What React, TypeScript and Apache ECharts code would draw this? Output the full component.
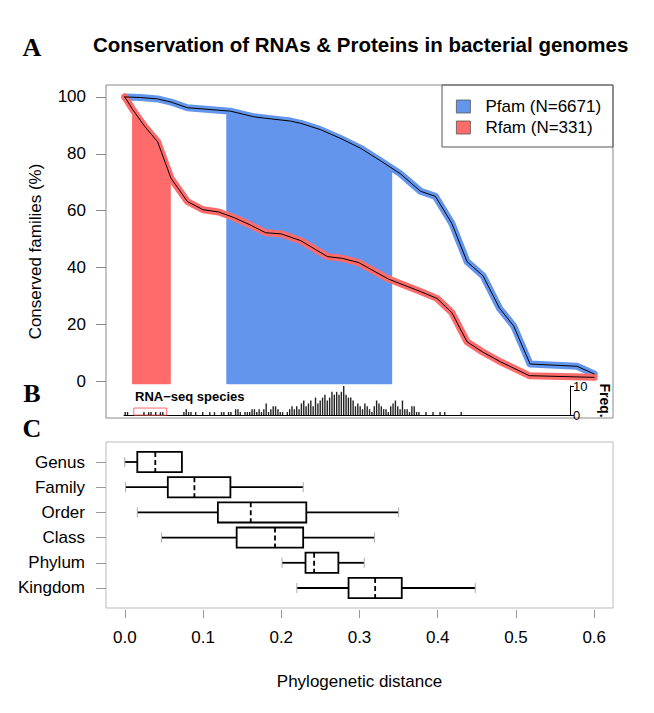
import React, { useEffect, useRef } from 'react';
import * as echarts from 'echarts';

// ---------- data ----------
const X_TICKS = [0, 0.1, 0.2, 0.3, 0.4, 0.5, 0.6];
const Y_TICKS_A = [0, 20, 40, 60, 80, 100];

const PFAM_NAME = 'Pfam (N=6671)';
const RFAM_NAME = 'Rfam (N=331)';

const PFAM_X = [0, 0.02, 0.042, 0.059, 0.08, 0.135, 0.165, 0.186, 0.212, 0.225, 0.25, 0.275, 0.301, 0.327, 0.352, 0.378, 0.397, 0.418, 0.4375, 0.458, 0.479, 0.497, 0.518, 0.578, 0.6];
const PFAM_Y = [100, 99.8, 99.3, 98.2, 96.2, 95, 93, 92.3, 91.5, 90.7, 88.5, 85.5, 82, 77.5, 73, 66.8, 65, 55.5, 42, 37, 25.6, 19.4, 6, 5.2, 2.5];

const RFAM_X = [0, 0.01, 0.025, 0.042, 0.059, 0.08, 0.1, 0.12, 0.14, 0.16, 0.18, 0.2, 0.225, 0.259, 0.278, 0.299, 0.337, 0.378, 0.399, 0.418, 0.4375, 0.457, 0.48, 0.517, 0.6];
const RFAM_Y = [100, 95.6, 89.8, 84.2, 71.4, 63.2, 60.3, 59.5, 57.5, 55, 52.2, 51.8, 49.4, 43.8, 43.2, 41.7, 35.9, 31.5, 29.1, 24.1, 13.8, 10.3, 6.8, 1.9, 1.3];

const PFAM_SHADE = [0.131, 0.3405];
const RFAM_SHADE = [0.0106, 0.0575];
const SHADE_BASE = -0.8;

const HIST_BIN = 0.003;
const HIST_COUNTS = [
  1, 1, 0, 0, 0, 0, 0, 0, 1, 0, 1, 1,
  0, 1, 0, 1, 1, 0, 0, 0, 0, 0, 0, 0,
  0, 1, 2, 1, 1, 0, 1, 0, 0, 1, 0, 0,
  1, 0, 1, 0, 0, 1, 1, 0, 1, 1, 0, 2,
  2, 1, 0, 1, 1, 1, 2, 2, 1, 2, 1, 2,
  4, 1, 2, 3, 3, 2, 1, 1, 0, 1, 2, 3,
  2, 3, 2, 4, 5, 3, 4, 5, 3, 6, 4, 5,
  6, 7, 5, 6, 8, 7, 8, 7, 8, 10, 7, 6,
  6, 5, 3, 4, 3, 2, 4, 3, 2, 1, 3, 5,
  4, 3, 2, 2, 1, 3, 4, 5, 3, 2, 5, 2,
  2, 1, 3, 3, 1, 1, 0, 0, 1, 0, 0, 1,
  0, 0, 1, 0, 1, 0, 0, 0, 0, 0, 0, 1,
];
const HIST_TICKS = [0, 10];
const RNASEQ_RANGE = [0.0125, 0.0545];

const BOX_CATEGORIES = ['Genus', 'Family', 'Order', 'Class', 'Phylum', 'Kingdom'];
const BOX_MIN = [0.0, 0.001, 0.016, 0.047, 0.201, 0.22];
const BOX_Q1 = [0.016, 0.055, 0.119, 0.143, 0.231, 0.286];
const BOX_MED = [0.039, 0.089, 0.161, 0.192, 0.242, 0.32];
const BOX_Q3 = [0.073, 0.135, 0.232, 0.228, 0.273, 0.354];
const BOX_MAX = [0.073, 0.228, 0.35, 0.319, 0.306, 0.448];

// ---------- helpers ----------
const BLUE = '#6495ED';
const RED = '#FF6A6A';
const FONT = 'Liberation Sans';

function interp(xs: number[], ys: number[], x: number): number {
  for (let i = 0; i < xs.length - 1; i++) {
    if (x >= xs[i] && x <= xs[i + 1]) {
      const t = (x - xs[i]) / (xs[i + 1] - xs[i]);
      return ys[i] + t * (ys[i + 1] - ys[i]);
    }
  }
  return ys[ys.length - 1];
}

function shadePolygon(xs: number[], ys: number[], range: number[], base: number): number[][] {
  const [x0, x1] = range;
  const pts: number[][] = [[x0, base], [x0, interp(xs, ys, x0)]];
  xs.forEach((x, i) => {
    if (x > x0 && x < x1) pts.push([x, ys[i]]);
  });
  pts.push([x1, interp(xs, ys, x1)], [x1, base]);
  return pts;
}

function shadeSeries(name: string, color: string, poly: number[][]) {
  return {
    type: 'custom',
    name,
    xAxisIndex: 0,
    yAxisIndex: 0,
    silent: true,
    z: 1,
    itemStyle: { color },
    data: [[0, 0]],
    renderItem: (_p: any, api: any) => ({
      type: 'polygon',
      shape: { points: poly.map((pt) => api.coord(pt)) },
      style: { fill: color, stroke: color, lineWidth: 2, lineJoin: 'round' },
    }),
  };
}

function lineSeries(xs: number[], ys: number[], color: string, width: number, z: number) {
  return {
    type: 'line',
    xAxisIndex: 0,
    yAxisIndex: 0,
    silent: true,
    symbol: 'none',
    showSymbol: false,
    z,
    data: xs.map((x, i) => [x, ys[i]]),
    lineStyle: { color, width, cap: 'round', join: 'round' },
  };
}

export default function App() {
  const ref = useRef<HTMLDivElement>(null);

  useEffect(() => {
    document.body.style.margin = '0';
    if (!ref.current) return;
    const chart = echarts.init(ref.current, undefined, { renderer: 'svg' });

    const boxData = BOX_CATEGORIES.map((_, i) => [i + 1, BOX_MIN[i], BOX_Q1[i], BOX_MED[i], BOX_Q3[i], BOX_MAX[i]]);
    const histData = HIST_COUNTS.map((c, i) => [(i + 0.5) * HIST_BIN, c]);

    const option: any = {
      animation: false,
      textStyle: { fontFamily: FONT, color: '#000' },
      title: {
        text: 'Conservation of RNAs & Proteins in bacterial genomes',
        left: 88,
        top: 29,
        textStyle: { fontFamily: FONT, fontSize: 20.5, fontWeight: 'bold', color: '#000' },
      },
      legend: {
        data: [PFAM_NAME, RFAM_NAME],
        orient: 'vertical',
        left: 456,
        top: 98,
        padding: 0,
        itemGap: 4,
        itemWidth: 14,
        itemHeight: 13,
        icon: 'rect',
        itemStyle: { borderColor: '#555', borderWidth: 0.8 },
        textStyle: { fontFamily: FONT, fontSize: 17, color: '#000', padding: [0, 0, 0, 10] },
        selectedMode: false,
      },
      grid: [
        { left: 106, top: 85, width: 507, height: 333, show: true, borderColor: '#888', borderWidth: 1 },
        { left: 124, top: 386, width: 446, height: 29, show: false },
        { left: 106, top: 442, width: 507, height: 166, show: true, borderColor: '#bbb', borderWidth: 1 },
      ],
      xAxis: [
        { type: 'value', gridIndex: 0, min: -0.024, max: 0.624, show: false },
        {
          type: 'value', gridIndex: 1, min: 0, max: 0.5694,
          axisLine: { show: true, onZero: false, lineStyle: { color: '#000', width: 1 } },
          axisTick: { show: false }, axisLabel: { show: false }, splitLine: { show: false },
        },
        {
          type: 'value', gridIndex: 2, min: -0.024, max: 0.624, offset: 2,
          axisLine: { show: false, onZero: false },
          axisTick: { show: true, length: 8, customValues: X_TICKS, lineStyle: { color: '#999' } },
          axisLabel: {
            customValues: X_TICKS, margin: 19, fontSize: 17, color: '#000', fontFamily: FONT,
            formatter: (v: number) => v.toFixed(1),
          },
          splitLine: { show: false },
          name: 'Phylogenetic distance',
          nameLocation: 'middle',
          nameGap: 63,
          nameTextStyle: { fontSize: 17, color: '#000', fontFamily: FONT },
        },
      ],
      yAxis: [
        {
          type: 'value', gridIndex: 0, min: -13, max: 104.2,
          axisLine: { show: false, onZero: false },
          axisTick: { show: true, length: 10, customValues: Y_TICKS_A, lineStyle: { color: '#888' } },
          axisLabel: { customValues: Y_TICKS_A, margin: 20, fontSize: 17, color: '#000', fontFamily: FONT },
          splitLine: { show: false },
          name: 'Conserved families (%)',
          nameLocation: 'middle',
          nameRotate: 90,
          nameGap: 62,
          nameTextStyle: { fontSize: 17, color: '#000', fontFamily: FONT },
        },
        {
          type: 'value', gridIndex: 1, min: 0, max: 10, position: 'right',
          axisLine: { show: true, onZero: false, lineStyle: { color: '#000', width: 1 } },
          axisTick: { show: true, length: 4, customValues: HIST_TICKS, lineStyle: { color: '#000' } },
          axisLabel: { customValues: HIST_TICKS, margin: 3, fontSize: 13, color: '#000', fontFamily: FONT },
          splitLine: { show: false },
          name: 'Freq.',
          nameLocation: 'middle',
          nameRotate: -90,
          nameGap: 20,
          nameTextStyle: { fontSize: 14, fontWeight: 'bold', color: '#000', fontFamily: FONT },
        },
        {
          type: 'value', gridIndex: 2, min: 0.206, max: 6.794, inverse: true,
          axisLine: { show: false, onZero: false },
          axisTick: { show: true, length: 10, customValues: [1, 2, 3, 4, 5, 6], lineStyle: { color: '#999' } },
          axisLabel: {
            customValues: [1, 2, 3, 4, 5, 6], margin: 21, fontSize: 17, color: '#000', fontFamily: FONT,
            formatter: (v: number) => BOX_CATEGORIES[Math.round(v) - 1],
          },
          splitLine: { show: false },
        },
      ],
      graphic: [
        { type: 'rect', shape: { x: 442, y: 85, width: 171, height: 62 }, style: { fill: 'none', stroke: '#555', lineWidth: 1 }, z: 0 },
        { type: 'text', x: 32, y: 47, style: { text: 'A', font: 'bold 26px "Liberation Serif"', fill: '#000', align: 'center', verticalAlign: 'middle' } },
        { type: 'text', x: 32, y: 393, style: { text: 'B', font: 'bold 26px "Liberation Serif"', fill: '#000', align: 'center', verticalAlign: 'middle' } },
        { type: 'text', x: 32, y: 428, style: { text: 'C', font: 'bold 26px "Liberation Serif"', fill: '#000', align: 'center', verticalAlign: 'middle' } },
        { type: 'text', x: 135, y: 396, style: { text: 'RNA\u2212seq species', font: 'bold 13px "Liberation Sans"', fill: '#000', align: 'left', verticalAlign: 'middle' } },
      ],
      series: [
        shadeSeries(PFAM_NAME, BLUE, shadePolygon(PFAM_X, PFAM_Y, PFAM_SHADE, SHADE_BASE)),
        shadeSeries(RFAM_NAME, RED, shadePolygon(RFAM_X, RFAM_Y, RFAM_SHADE, SHADE_BASE)),
        lineSeries(PFAM_X, PFAM_Y, BLUE, 7, 3),
        lineSeries(RFAM_X, RFAM_Y, RED, 7, 3),
        lineSeries(PFAM_X, PFAM_Y, '#000', 1, 4),
        lineSeries(RFAM_X, RFAM_Y, '#000', 1, 4),
        {
          type: 'bar',
          xAxisIndex: 1,
          yAxisIndex: 1,
          silent: true,
          barWidth: 1.4,
          data: histData,
          itemStyle: { color: '#222' },
          markArea: {
            silent: true,
            itemStyle: { color: 'rgba(0,0,0,0)', borderColor: RED, borderWidth: 1 },
            data: [[{ coord: [RNASEQ_RANGE[0], -0.3] }, { coord: [RNASEQ_RANGE[1], 2.4] }]],
          },
        },
        {
          type: 'custom',
          xAxisIndex: 2,
          yAxisIndex: 2,
          silent: true,
          data: boxData,
          encode: { x: [1, 2, 3, 4, 5], y: 0 },
          renderItem: (_p: any, api: any) => {
            const y = api.value(0);
            const h = api.size([0, 1])[1] * 0.4;
            const pt = (k: number) => api.coord([api.value(k), y]);
            const pMin = pt(1), pQ1 = pt(2), pMed = pt(3), pQ3 = pt(4), pMax = pt(5);
            const cy = pMin[1];
            const black = { stroke: '#000', lineWidth: 1.8 };
            const staple = { stroke: '#aaa', lineWidth: 1 };
            return {
              type: 'group',
              children: [
                { type: 'line', shape: { x1: pMin[0], y1: cy, x2: pQ1[0], y2: cy }, style: black },
                { type: 'line', shape: { x1: pQ3[0], y1: cy, x2: pMax[0], y2: cy }, style: black },
                { type: 'line', shape: { x1: pMin[0], y1: cy - 5, x2: pMin[0], y2: cy + 5 }, style: staple },
                { type: 'line', shape: { x1: pMax[0], y1: cy - 5, x2: pMax[0], y2: cy + 5 }, style: staple },
                { type: 'rect', shape: { x: pQ1[0], y: cy - h, width: pQ3[0] - pQ1[0], height: 2 * h }, style: { fill: '#fff', stroke: '#000', lineWidth: 1.8 } },
                { type: 'line', shape: { x1: pMed[0], y1: cy - h, x2: pMed[0], y2: cy + h }, style: { stroke: '#000', lineWidth: 1.8, lineDash: [5, 3] } },
              ],
            };
          },
        },
      ],
    };

    chart.setOption(option);
    return () => chart.dispose();
  }, []);

  return <div ref={ref} style={{ width: 654, height: 713 }} />;
}
